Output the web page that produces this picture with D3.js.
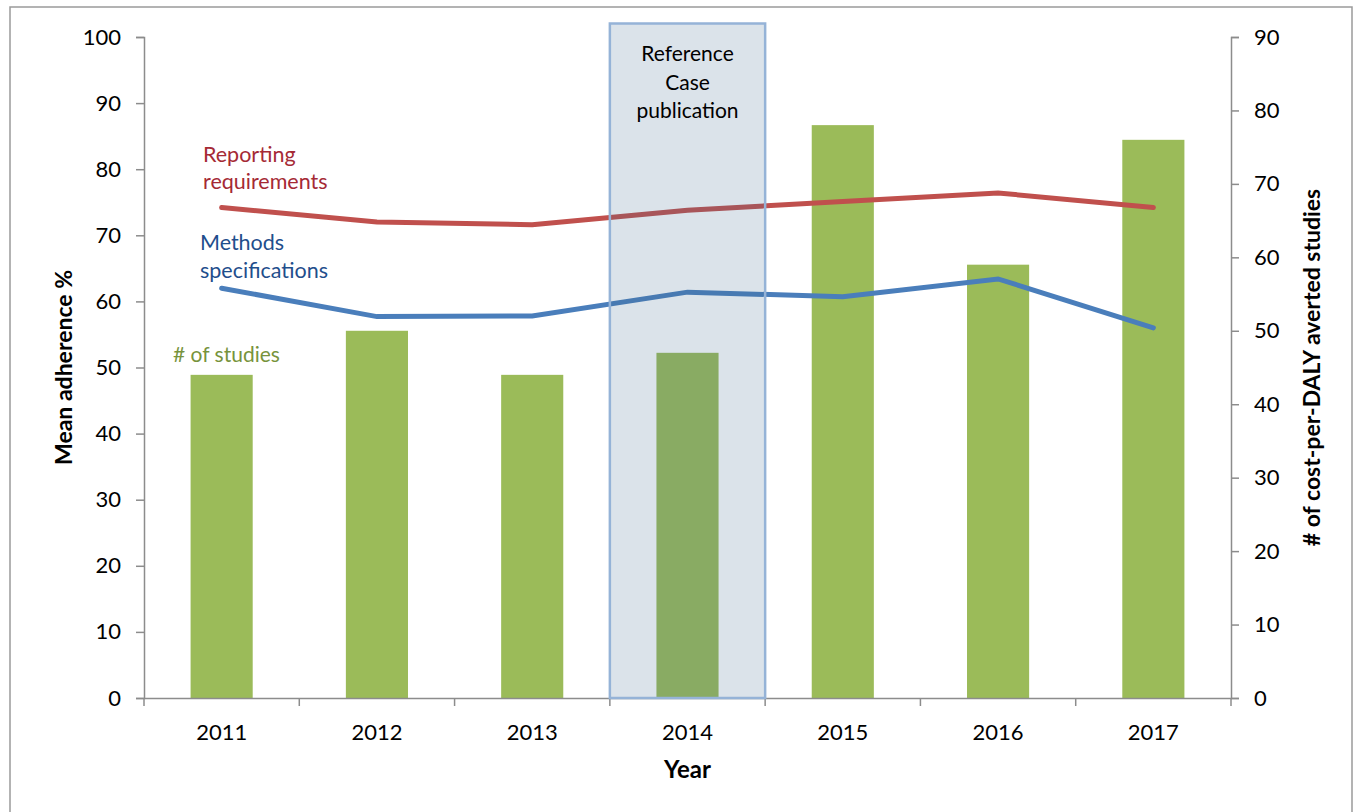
<!DOCTYPE html>
<html>
<head>
<meta charset="utf-8">
<script src="https://cdn.jsdelivr.net/npm/d3@7"></script>
<style>
  body { margin: 0; background: #fff; }
  text { font-family: Lato, "Open Sans", sans-serif; }
</style>
</head>
<body>
<svg width="1354" height="812"></svg>
<script>
const years = ["2011", "2012", "2013", "2014", "2015", "2016", "2017"];
const studies = [44, 50, 44, 47, 78, 59, 76];
const reporting = [74.2, 72.0, 71.6, 73.8, 75.1, 76.4, 74.2];
const methods = [62.0, 57.7, 57.8, 61.4, 60.7, 63.4, 56.0];
const leftTicks = [0, 10, 20, 30, 40, 50, 60, 70, 80, 90, 100];
const rightTicks = [0, 10, 20, 30, 40, 50, 60, 70, 80, 90];
const highlightYear = "2014";

const svg = d3.select("svg");
const axisColor = "#8c8c8c";

// outer frame
svg.append("rect").attr("x", 10).attr("y", 7).attr("width", 1342).attr("height", 830)
  .attr("fill", "none").attr("stroke", "#9a9a9a").attr("stroke-width", 1.5);

const plotL = 144, plotR = 1231, plotT = 37, plotB = 698;

const x = d3.scaleBand().domain(years).range([plotL, plotR]);
const yL = d3.scaleLinear().domain([0, 100]).range([plotB, plotT]);
const yR = d3.scaleLinear().domain([0, 90]).range([plotB, plotT]);

// bars
const barW = x.bandwidth() * 0.4;
svg.append("g").selectAll("rect").data(years).join("rect")
  .attr("x", d => x(d) + (x.bandwidth() - barW) / 2)
  .attr("y", (d, i) => yR(studies[i]))
  .attr("width", barW)
  .attr("height", (d, i) => plotB - yR(studies[i]))
  .attr("fill", "#9bbb59");

// lines
const line = d3.line().x((d, i) => x(years[i]) + x.bandwidth() / 2).y(d => yL(d));
svg.append("path").datum(reporting).attr("d", line)
  .attr("fill", "none").attr("stroke", "#c0504d").attr("stroke-width", 5).attr("stroke-linecap", "round");
svg.append("path").datum(methods).attr("d", line)
  .attr("fill", "none").attr("stroke", "#4a7ebb").attr("stroke-width", 5).attr("stroke-linecap", "round");

// axes
function styleAxis(g) {
  g.select(".domain").attr("stroke", axisColor).attr("stroke-width", 1.5);
  g.selectAll(".tick line").attr("stroke", axisColor).attr("stroke-width", 1.5);
  g.selectAll(".tick text").attr("fill", "#000").style("font-size", "22px")
    .style("font-family", "Lato, 'Open Sans', sans-serif");
}
svg.append("g").attr("transform", `translate(${plotL},0)`)
  .call(d3.axisLeft(yL).tickValues(leftTicks).tickSize(8).tickSizeOuter(8).tickPadding(15))
  .call(styleAxis);
svg.append("g").attr("transform", `translate(${plotR},0)`)
  .call(d3.axisRight(yR).tickValues(rightTicks).tickSize(8).tickSizeOuter(8).tickPadding(15))
  .call(styleAxis);
const xAxis = svg.append("g").attr("transform", `translate(0,${plotB})`)
  .call(d3.axisBottom(x).tickSize(0).tickPadding(26))
  .call(styleAxis);
// ticks at band boundaries
xAxis.selectAll(".bnd").data(years.concat(["end"])).join("line")
  .attr("x1", (d, i) => plotL + i * x.step()).attr("x2", (d, i) => plotL + i * x.step())
  .attr("y1", 0).attr("y2", 8).attr("stroke", axisColor).attr("stroke-width", 1.5);

// highlight box (on top of bars and lines)
svg.append("rect")
  .attr("x", x(highlightYear)).attr("y", 23.5)
  .attr("width", x.bandwidth()).attr("height", plotB - 23.5)
  .attr("fill", "rgb(66,105,145)").attr("fill-opacity", 0.19)
  .attr("stroke", "#95b3d7").attr("stroke-width", 2.5);
const hx = x(highlightYear) + x.bandwidth() / 2;
svg.append("text").attr("x", hx).attr("y", 61).attr("text-anchor", "middle").style("font-size", "21px")
  .selectAll("tspan").data(["Reference", "Case", "publication"]).join("tspan")
  .attr("x", hx).attr("dy", (d, i) => i === 0 ? 0 : 28.5).text(d => d);

// series labels
svg.append("text").attr("x", 203).attr("y", 162).attr("fill", "#a52a35").style("font-size", "21.5px")
  .selectAll("tspan").data(["Reporting", "requirements"]).join("tspan")
  .attr("x", 203).attr("dy", (d, i) => i === 0 ? 0 : 27).text(d => d);
svg.append("text").attr("x", 200).attr("y", 250).attr("fill", "#1f4e8c").style("font-size", "21.5px")
  .selectAll("tspan").data(["Methods", "specifications"]).join("tspan")
  .attr("x", 200).attr("dy", (d, i) => i === 0 ? 0 : 28).text(d => d);
svg.append("text").attr("x", 173).attr("y", 362).attr("fill", "#77933c").style("font-size", "21px")
  .text("# of studies");

// axis titles
svg.append("text").attr("transform", `translate(72,${(plotT + plotB) / 2}) rotate(-90)`)
  .attr("text-anchor", "middle").style("font-size", "23px").style("font-weight", "bold")
  .text("Mean adherence %");
svg.append("text").attr("transform", `translate(1320,${(plotT + plotB) / 2}) rotate(-90)`)
  .attr("text-anchor", "middle").style("font-size", "23px").style("font-weight", "bold")
  .text("# of cost-per-DALY averted studies");
svg.append("text").attr("x", (plotL + plotR) / 2).attr("y", 778)
  .attr("text-anchor", "middle").style("font-size", "24px").style("font-weight", "bold")
  .text("Year");
</script>
</body>
</html>
